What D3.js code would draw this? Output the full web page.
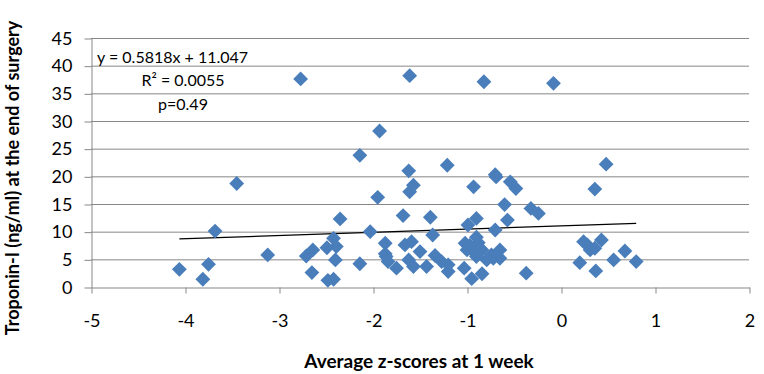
<!doctype html>
<html lang="en">
<head>
	<meta charset="UTF-8">
	<title>Troponin-I vs z-scores</title>
	<style>
		body { margin: 0; background: #fff; }
		svg text { font-family: Lato, "Open Sans", sans-serif; fill: #000; }
	</style>
</head>
<body>
	<div id="chart"></div>

	<script src="https://cdnjs.cloudflare.com/ajax/libs/d3/7.8.5/d3.min.js"></script>
	<script>
		// z-score (x) and troponin-I (y) per patient
		var zScores = [
			-4.06, -3.81, -3.75, -3.68, -3.45, -3.12, -2.77, -2.71, -2.64, -2.65,
			-2.49, -2.48, -2.42, -2.42, -2.39, -2.40, -2.35, -2.14, -2.14, -2.03,
			-1.93, -1.95, -1.87, -1.87, -1.84, -1.75, -1.68, -1.66, -1.62, -1.61,
			-1.57, -1.61, -1.59, -1.62, -1.57, -1.50, -1.43, -1.39, -1.365, -1.34,
			-1.21, -1.20, -1.20, -1.27, -1.03, -1.02, -1.00, -0.99, -0.95, -0.93,
			-0.90, -0.90, -0.90, -0.84, -0.84, -0.82, -0.79, -0.74, -0.72, -0.70,
			-0.69, -0.70, -0.65, -0.65, -0.60, -0.57, -0.54, -0.48, -0.37, -0.32,
			-0.24, -0.08, 0.20, 0.24, 0.31, 0.36, 0.36, 0.37, 0.43, 0.48,
			0.56, 0.68, 0.80, -0.97, -0.92, -0.88, 0.28, -1.86
		];
		var troponin = [
			3.2, 1.4, 4.1, 10.1, 18.7, 5.8, 37.6, 5.6, 6.7, 2.6,
			7.1, 1.2, 1.4, 8.8, 7.3, 4.9, 12.3, 23.8, 4.2, 10.0,
			28.2, 16.2, 7.9, 6.0, 4.6, 3.4, 12.9, 7.6, 21.0, 38.2,
			18.4, 17.2, 8.2, 4.9, 3.7, 6.4, 3.7, 12.6, 9.4, 5.7,
			22.0, 4.0, 2.8, 4.6, 3.4, 7.9, 6.7, 11.2, 1.5, 18.1,
			12.4, 9.0, 5.5, 6.7, 2.4, 37.1, 4.9, 5.8, 5.2, 20.3,
			19.9, 10.3, 6.7, 5.2, 14.9, 12.1, 19.0, 17.8, 2.5, 14.2,
			13.3, 36.8, 4.4, 8.2, 6.7, 7.0, 17.7, 2.9, 8.5, 22.2,
			4.9, 6.5, 4.6, 7.5, 6.2, 8.0, 7.6, 5.5
		];

		var xTicks = [-5, -4, -3, -2, -1, 0, 1, 2];
		var yTicks = [0, 5, 10, 15, 20, 25, 30, 35, 40, 45];

		// linear trend as printed on the chart
		var slope = 0.5818,
			intercept = 11.047;
		var annotation = ['y = 0.5818x + 11.047', 'R\u00b2 = 0.0055', 'p=0.49'];

		var w = 764,
			h = 374,
			margin = {top: 38, right: 15, bottom: 87, left: 91};

		var x = d3.scaleLinear()
			.domain([-5, 2])
			.range([margin.left, w - margin.right]);

		var y = d3.scaleLinear()
			.domain([0, 45])
			.range([h - margin.bottom, margin.top]);

		var svg = d3.select('#chart')
				.append('svg')
				.attr('width', w)
				.attr('height', h);

		// horizontal gridlines
		svg.append('g')
			.selectAll('line')
			.data(yTicks.slice(1))
			.enter()
			.append('line')
			.attr('x1', x(-5))
			.attr('x2', x(2))
			.attr('y1', function(d) { return y(d) + 0.5; })
			.attr('y2', function(d) { return y(d) + 0.5; })
			.attr('stroke', '#878787');

		var yAxis = svg.append('g')
			.attr('transform', 'translate(' + (margin.left + 0.5) + ',0.5)')
			.call(d3.axisLeft(y).tickValues(yTicks).tickSize(7).tickPadding(12).tickSizeOuter(0));

		var xAxis = svg.append('g')
			.attr('transform', 'translate(0.5,' + (h - margin.bottom + 0.5) + ')')
			.call(d3.axisBottom(x).tickValues(xTicks).tickSize(6).tickPadding(21).tickSizeOuter(0)
				.tickFormat(d3.format('d')));

		[yAxis, xAxis].forEach(function(a) {
			a.selectAll('path, line').attr('stroke', '#878787');
			a.selectAll('text')
				.attr('fill', '#000')
				.style('font-size', '18px');
		});
		// plain hyphen for negatives, as in the original
		xAxis.selectAll('text').text(function(d) { return d < 0 ? '-' + Math.abs(d) : d; });

		// trendline over the data range
		var xExt = d3.extent(zScores);
		svg.append('line')
			.attr('x1', x(xExt[0]))
			.attr('y1', y(slope * xExt[0] + intercept))
			.attr('x2', x(xExt[1]))
			.attr('y2', y(slope * xExt[1] + intercept))
			.attr('stroke', '#000')
			.attr('stroke-width', 1.2);

		var diamond = d3.symbol().type(d3.symbolSquare).size(110);

		svg.append('g')
			.selectAll('path')
			.data(zScores)
			.enter()
			.append('path')
			.attr('d', diamond)
			.attr('transform', function(d, i) {
				return 'translate(' + x(d) + ',' + y(troponin[i]) + ') rotate(45)';
			})
			.attr('fill', '#4A7EBB');

		// equation box
		svg.append('text')
			.attr('x', 97)
			.attr('y', 63)
			.style('font-size', '16px')
			.text(annotation[0]);

		svg.selectAll('text.stat')
			.data(annotation.slice(1))
			.enter()
			.append('text')
			.attr('class', 'stat')
			.attr('x', 183)
			.attr('y', function(d, i) { return 86 + i * 24; })
			.attr('text-anchor', 'middle')
			.style('font-size', '16px')
			.text(function(d) { return d; });

		// axis titles
		svg.append('text')
			.attr('x', 419)
			.attr('y', 368)
			.attr('text-anchor', 'middle')
			.style('font-size', '19px')
			.style('font-weight', 'bold')
			.text('Average z-scores at 1 week');

		svg.append('text')
			.attr('transform', 'translate(19,178) rotate(-90)')
			.attr('text-anchor', 'middle')
			.style('font-size', '18px')
			.style('font-weight', 'bold')
			.text('Troponin-I (ng/ml) at the end of surgery');
	</script>
</body>
</html>
